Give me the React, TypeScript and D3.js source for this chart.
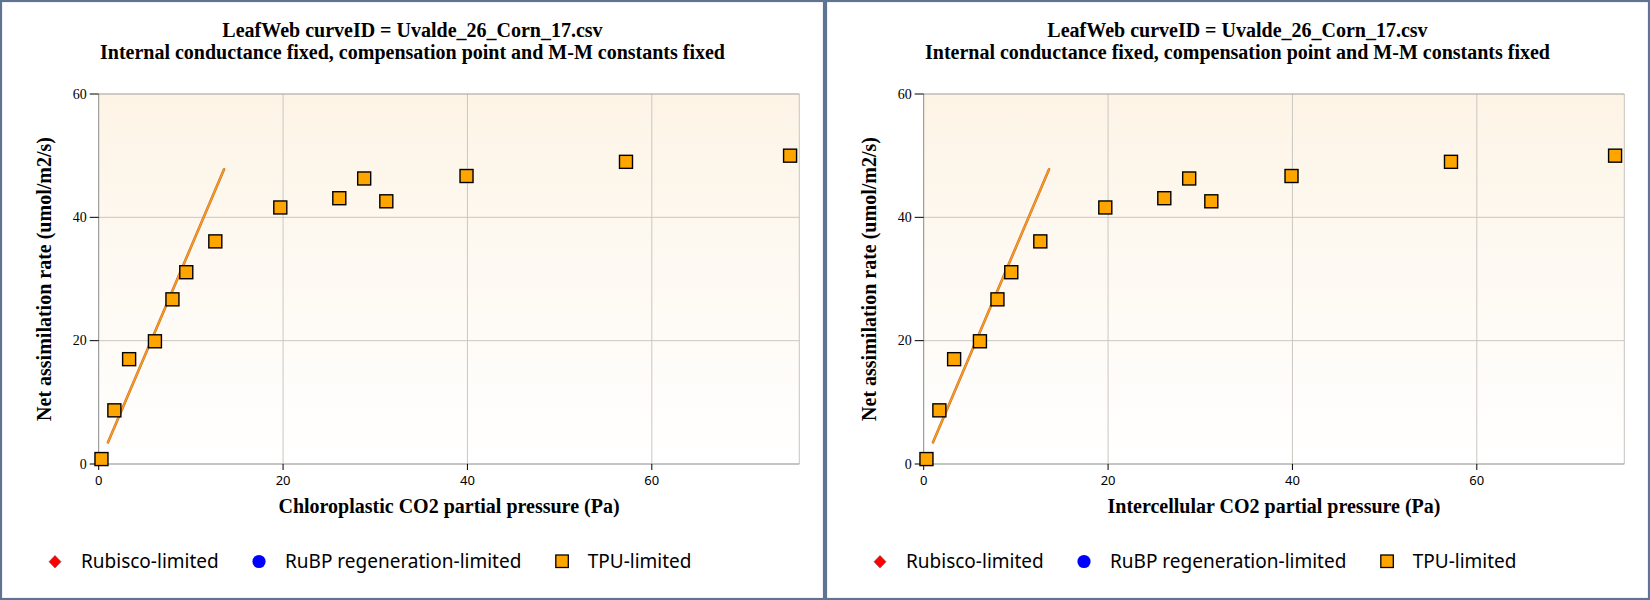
import React from "react";
import * as d3 from "d3";

const titleLine1 = "LeafWeb curveID = Uvalde_26_Corn_17.csv";
const titleLine2 = "Internal conductance fixed, compensation point and M-M constants fixed";
const xLabels = ["Chloroplastic CO2 partial pressure (Pa)", "Intercellular CO2 partial pressure (Pa)"];
const yLabel = "Net assimilation rate (umol/m2/s)";

const xTicks = [0, 20, 40, 60];
const yTicks = [0, 20, 40, 60];
const xDomain = [0, 76];
const yDomain = [0, 60];

// TPU-limited observations
const tpuX = [0.3, 1.7, 3.3, 6.1, 8.0, 9.5, 12.65, 19.7, 26.1, 28.8, 31.2, 39.9, 57.2, 75.0];
const tpuY = [0.8, 8.7, 17.0, 19.9, 26.7, 31.1, 36.1, 41.6, 43.1, 46.3, 42.6, 46.7, 49.0, 50.0];

// fitted limitation line
const lineX = [1.0, 13.6];
const lineY = [3.5, 47.8];

const legendItems = ["Rubisco-limited", "RuBP regeneration-limited", "TPU-limited"];

const PANEL_W = 825;
const H = 600;
const border = "#5e7492";

function Panel({ offset, xLabel }: { offset: number; xLabel: string }) {
  const left = 98.7;
  const right = 799.3;
  const top = 94;
  const bottom = 464;
  const x = d3.scaleLinear().domain(xDomain).range([left, right]);
  const y = d3.scaleLinear().domain(yDomain).range([bottom, top]);
  const line = d3
    .line<number>()
    .x((_, i) => x(lineX[i]))
    .y((d) => y(d));
  const sq = 13;
  const serif = "'Liberation Serif', 'Times New Roman', serif";
  const sans = "'Noto Sans', sans-serif";
  const cx = PANEL_W / 2;
  return (
    <g transform={`translate(${offset},0)`}>
      <rect x={1} y={1} width={PANEL_W - 2} height={H - 2} fill="#fff" stroke={border} strokeWidth={2.2} />
      <text x={cx} y={36.7} textAnchor="middle" fontFamily={serif} fontWeight="bold" fontSize={20}>
        {titleLine1}
      </text>
      <text x={cx} y={59.3} textAnchor="middle" fontFamily={serif} fontWeight="bold" fontSize={20}>
        {titleLine2}
      </text>
      <rect x={left} y={top} width={right - left} height={bottom - top} fill="url(#bgGrad)" />
      {xTicks.slice(1).map((t) => (
        <line key={"gx" + t} x1={x(t)} x2={x(t)} y1={top} y2={bottom} stroke="#cbc7c2" strokeWidth={1} />
      ))}
      {yTicks.slice(1, -1).map((t) => (
        <line key={"gy" + t} x1={left} x2={right} y1={y(t)} y2={y(t)} stroke="#cbc7c2" strokeWidth={1} />
      ))}
      <line x1={right} x2={right} y1={top} y2={bottom} stroke="#c8c4c0" strokeWidth={1} />
      <line x1={left} x2={right} y1={top} y2={top} stroke="#a09c98" strokeWidth={1} />
      <line x1={left} x2={left} y1={top} y2={bottom} stroke="#8a8a8a" strokeWidth={1} />
      <line x1={left} x2={right} y1={bottom} y2={bottom} stroke="#8a8a8a" strokeWidth={1} />
      {yTicks.map((t) => (
        <g key={"yt" + t}>
          <line x1={left - 9} x2={left} y1={y(t)} y2={y(t)} stroke="#000" strokeWidth={1} />
          <text x={left - 12} y={y(t)} dy="0.33em" textAnchor="end" fontFamily={serif} fontSize={14}>
            {t}
          </text>
        </g>
      ))}
      {xTicks.map((t) => (
        <g key={"xt" + t}>
          <line x1={x(t)} x2={x(t)} y1={bottom} y2={bottom + 6} stroke="#000" strokeWidth={1} />
          <text x={x(t)} y={485} textAnchor="middle" fontFamily={sans} fontSize={13}>
            {t}
          </text>
        </g>
      ))}
      <path d={line(lineY) || ""} fill="none" stroke="#c8703a" strokeWidth={2.6} strokeLinecap="round" />
      <path d={line(lineY) || ""} fill="none" stroke="#ff9d12" strokeWidth={1.4} strokeLinecap="round" />
      {tpuX.map((v, i) => (
        <rect
          key={"p" + i}
          x={x(v) - sq / 2}
          y={y(tpuY[i]) - sq / 2}
          width={sq}
          height={sq}
          fill="#ffa500"
          stroke="#000"
          strokeWidth={1.4}
        />
      ))}
      <text
        transform={`translate(51,${(top + bottom) / 2}) rotate(-90)`}
        textAnchor="middle"
        fontFamily={serif}
        fontWeight="bold"
        fontSize={20}
      >
        {yLabel}
      </text>
      <text x={(left + right) / 2} y={513} textAnchor="middle" fontFamily={serif} fontWeight="bold" fontSize={20}>
        {xLabel}
      </text>
      {/* legend */}
      <path d="M55,555.5 L61,561.7 L55,567.9 L49,561.7 Z" fill="#ff0000" stroke="#8a3040" strokeWidth={0.6} />
      <text x={81} y={567.7} fontFamily={sans} fontSize={19}>
        {legendItems[0]}
      </text>
      <circle cx={259} cy={561.5} r={6.6} fill="#0000ff" />
      <text x={285} y={567.7} fontFamily={sans} fontSize={19}>
        {legendItems[1]}
      </text>
      <rect x={555.8} y={555} width={12.5} height={12.5} fill="#ffa500" stroke="#000" strokeWidth={1.3} />
      <text x={587.7} y={567.7} fontFamily={sans} fontSize={19}>
        {legendItems[2]}
      </text>
    </g>
  );
}

export default function App() {
  return (
    <div style={{ position: "absolute", left: 0, top: 0 }}>
      <svg width={1650} height={H} style={{ display: "block" }}>
        <defs>
          <linearGradient id="bgGrad" x1="0" y1="0" x2="0" y2="1">
            <stop offset="0%" stopColor="#fdf4e6" />
            <stop offset="100%" stopColor="#ffffff" />
          </linearGradient>
        </defs>
        <Panel offset={0} xLabel={xLabels[0]} />
        <Panel offset={PANEL_W} xLabel={xLabels[1]} />
      </svg>
    </div>
  );
}
